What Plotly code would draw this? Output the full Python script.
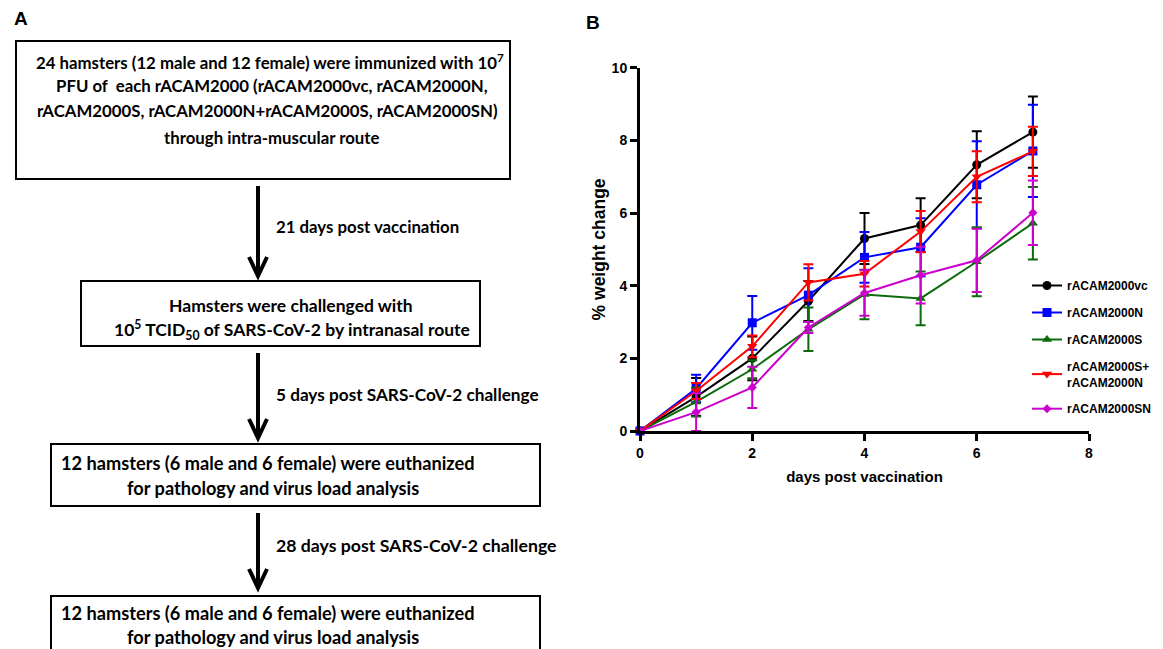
import plotly.graph_objects as go

W, H = 1163, 649

# ---------------- data ----------------
days = [0, 1, 2, 3, 4, 5, 6, 7]
series_names = ["rACAM2000vc", "rACAM2000N", "rACAM2000S", "rACAM2000S+<br>rACAM2000N", "rACAM2000SN"]
vc_mean = [0, 0.94, 2.00, 3.58, 5.30, 5.67, 7.33, 8.23]
vc_sem = [0, 0.52, 0.60, 0.55, 0.70, 0.74, 0.92, 0.98]
n_mean = [0, 1.17, 2.98, 3.74, 4.78, 5.06, 6.78, 7.71]
n_sem = [0, 0.38, 0.74, 0.74, 0.70, 0.80, 1.20, 1.27]
s_mean = [0, 0.80, 1.70, 2.80, 3.76, 3.65, 4.66, 5.72]
s_sem = [0, 0.40, 0.25, 0.60, 0.68, 0.74, 0.95, 1.00]
sn_combo_mean = [0, 1.10, 2.33, 4.09, 4.33, 5.49, 7.00, 7.70]
sn_combo_sem = [0, 0.22, 0.30, 0.50, 0.35, 0.57, 0.70, 0.68]
sn_mean = [0, 0.52, 1.20, 2.85, 3.80, 4.29, 4.70, 6.01]
sn_sem = [0, 0.52, 0.57, 0.15, 0.63, 0.78, 0.87, 0.89]

colors = ["#000000", "#0000FF", "#0B6B0B", "#FF0000", "#CC00CC"]
symbols = ["circle", "square", "triangle-up", "triangle-down", "diamond"]
sizes = [9, 9, 9, 9, 7]
means = [vc_mean, n_mean, s_mean, sn_combo_mean, sn_mean]
sems = [vc_sem, n_sem, s_sem, sn_combo_sem, sn_sem]

x_ticks = [0, 2, 4, 6, 8]
y_ticks = [0, 2, 4, 6, 8, 10]

# flowchart texts
box_texts = [
    ["24 hamsters (12 male and 12 female) were immunized with 10<sup>7</sup>",
     "PFU of  each rACAM2000 (rACAM2000vc, rACAM2000N,",
     "rACAM2000S, rACAM2000N+rACAM2000S, rACAM2000SN)",
     "through intra-muscular route"],
    ["Hamsters were challenged with",
     "10<sup>5</sup> TCID<sub>50</sub> of SARS-CoV-2 by intranasal route"],
    ["12 hamsters (6 male and 6 female) were euthanized",
     "for pathology and virus load analysis"],
    ["12 hamsters (6 male and 6 female) were euthanized",
     "for pathology and virus load analysis"],
]
arrow_labels = ["21 days post vaccination", "5 days post SARS-CoV-2 challenge",
                "28 days post SARS-CoV-2 challenge"]


def px(x):
    return x / W


def py(y):
    return 1 - y / H


fig = go.Figure()
for name, m, e, c, s, sz in zip(series_names, means, sems, colors, symbols, sizes):
    fig.add_trace(go.Scatter(
        x=days, y=m, name=f"<b>{name}</b>", mode="lines+markers",
        line=dict(color=c, width=2),
        marker=dict(color=c, symbol=s, size=sz),
        error_y=dict(type="data", array=e, visible=True, color=c, thickness=2, width=5),
        cliponaxis=False, legendgroup=name,
    ))

shapes = []
annotations = []
# boxes (pixel geometry)
boxes = [(8, 33, 502, 171), (73, 273, 472, 338), (43, 436, 532, 498), (43, 588, 532, 670)]
for (x0, y0, x1, y1) in boxes:
    shapes.append(dict(type="rect", xref="paper", yref="paper",
                       x0=px(x0), x1=px(x1), y0=py(y1), y1=py(y0),
                       line=dict(color="black", width=2), fillcolor="rgba(0,0,0,0)"))

# arrows
AX = 250
arrows = [(AX, 178, 268), (AX, 345, 430), (AX, 505, 580)]
for (ax, ay0, ay1) in arrows:
    shapes.append(dict(type="line", xref="paper", yref="paper",
                       x0=px(ax), x1=px(ax), y0=py(ay0), y1=py(ay1 - 2),
                       line=dict(color="black", width=4)))
    shapes.append(dict(type="path", xref="paper", yref="paper",
                       path=f"M {px(ax-9)},{py(ay1-19)} L {px(ax)},{py(ay1)} L {px(ax+9)},{py(ay1-19)}",
                       line=dict(color="black", width=4)))

font_sizes = [16.8, 17.5, 18.2, 18.2]
line_pos = [
    [(262, 53), (264, 78), (259, 103), (263, 129)],
    [(283, 297), (284, 322)],
    [(260, 455), (265, 480)],
    [(260, 605), (265, 629)],
]
for texts, poss, fs in zip(box_texts, line_pos, font_sizes):
    for t, (tx, ty) in zip(texts, poss):
        annotations.append(dict(text=f"<b>{t}</b>", x=px(tx), y=py(ty), xref="paper", yref="paper",
                                showarrow=False, xanchor="center", yanchor="middle",
                                font=dict(family="Lato", size=fs, color="black")))

for t, ty, fs in zip(arrow_labels, [218, 386, 537], [16.8, 17.2, 17.7]):
    annotations.append(dict(text=f"<b>{t}</b>", x=px(266), y=py(ty), xref="paper", yref="paper",
                            showarrow=False, xanchor="left", yanchor="middle",
                            font=dict(family="Lato", size=fs, color="black")))

annotations.append(dict(text="<b>A</b>", x=px(4), y=py(11), xref="paper", yref="paper",
                        showarrow=False, xanchor="left", yanchor="middle",
                        font=dict(family="Arial", size=19, color="black")))
annotations.append(dict(text="<b>B</b>", x=px(576), y=py(15), xref="paper", yref="paper",
                        showarrow=False, xanchor="left", yanchor="middle",
                        font=dict(family="Arial", size=19, color="black")))

AX_FONT = dict(family="Arial", size=14, color="black", weight="bold")
fig.update_layout(
    width=W, height=H,
    margin=dict(l=0, r=0, t=0, b=0),
    paper_bgcolor="white", plot_bgcolor="white",
    shapes=shapes, annotations=annotations,
    xaxis=dict(domain=[632 / W, 1081 / W], range=[0, 8], tickvals=x_ticks,
               showline=True, linecolor="black", linewidth=3, ticks="outside", ticklen=7,
               tickwidth=3, tickcolor="black", showgrid=False, zeroline=False,
               tickfont=AX_FONT, automargin=False,
               title=dict(text="<b>days post vaccination</b>",
                          font=dict(family="Arial", size=15, color="black"), standoff=12)),
    yaxis=dict(domain=[1 - 423 / H, 1 - 59.8 / H], range=[0, 10], tickvals=y_ticks,
               showline=True, linecolor="black", linewidth=3, ticks="outside", ticklen=7,
               tickwidth=3, tickcolor="black", showgrid=False, zeroline=False,
               tickfont=AX_FONT, automargin=False,
               title=dict(text="<b>% weight change</b>",
                          font=dict(family="Arial", size=17.5, color="black"), standoff=2)),
    legend=dict(x=1019 / W, y=py(263), xanchor="left", yanchor="top",
                font=dict(family="Arial", size=12, color="black"),
                traceorder="grouped", tracegroupgap=8, bgcolor="rgba(0,0,0,0)",
                itemwidth=30),
    showlegend=True,
)

fig.write_html("out.html")
